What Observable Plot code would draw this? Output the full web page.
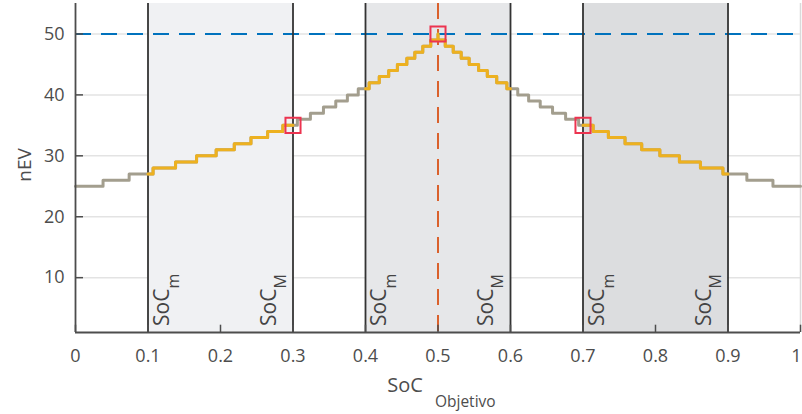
<!DOCTYPE html>
<html><head><meta charset="utf-8">
<script src="https://cdn.jsdelivr.net/npm/d3@7"></script>
<script src="https://cdn.jsdelivr.net/npm/@observablehq/plot@0.6"></script>
<style>body{margin:0;background:#fff} svg{display:block}</style>
</head><body><div id="chart"></div>
<script>
// SoC (objetivo) where each nEV level begins, and the nEV level
const stepSoC = [0, 0.038, 0.074, 0.107, 0.138, 0.167, 0.194, 0.219, 0.242, 0.265, 0.286, 0.306, 0.324, 0.342, 0.359, 0.375, 0.390, 0.405, 0.419, 0.432, 0.444, 0.457, 0.468, 0.479, 0.490, 0.5,
  0.5, 0.510, 0.521, 0.532, 0.543, 0.556, 0.568, 0.581, 0.595, 0.610, 0.625, 0.641, 0.658, 0.676, 0.694, 0.714, 0.735, 0.758, 0.781, 0.806, 0.833, 0.862, 0.893, 0.926, 0.962, 1];
const stepNEV = [25, 26, 27, 28, 29, 30, 31, 32, 33, 34, 35, 36, 37, 38, 39, 40, 41, 42, 43, 44, 45, 46, 47, 48, 49, 50,
  49, 48, 47, 46, 45, 44, 43, 42, 41, 40, 39, 38, 37, 36, 35, 34, 33, 32, 31, 30, 29, 28, 27, 26, 25, 25];
// SoC windows [SoC_m, SoC_M]
const windowMin = [0.1, 0.4, 0.7];
const windowMax = [0.3, 0.6, 0.9];
// marked operating points
const targetSoC = [0.3, 0.5, 0.7];
const targetNEV = [35, 50, 35];
const nEVMax = 50;
const socCenter = 0.5;
const xTicks = [0, 0.1, 0.2, 0.3, 0.4, 0.5, 0.6, 0.7, 0.8, 0.9, 1];
const yTicks = [10, 20, 30, 40, 50];

const windowFills = ["#f0f1f3", "#e6e7e9", "#dcdddf"];
const rows = stepSoC.map((s, i) => ({soc: s, n: stepNEV[i]}));
function levelAt(x) {
  let lv = rows[0].n;
  for (const r of rows) if (r.soc <= x) lv = r.n;
  return lv;
}
const segRows = [];
windowMin.forEach((a, k) => {
  const b = windowMax[k];
  segRows.push({soc: a, n: levelAt(a), seg: k});
  rows.forEach(r => { if (r.soc > a && r.soc < b) segRows.push({soc: r.soc, n: r.n, seg: k}); });
  segRows.push({soc: b, n: levelAt(b), seg: k});
});
const targets = targetSoC.map((s, i) => ({soc: s, n: targetNEV[i]}));
const bounds = windowMin.concat(windowMax);

const axisColor = "#4d4d4d";
const plot = Plot.plot({
  width: 802, height: 414,
  marginLeft: 75, marginRight: 2, marginTop: 3, marginBottom: 82,
  style: {fontFamily: "'Open Sans', sans-serif", fontSize: "18px", color: axisColor, background: "white", overflow: "visible"},
  x: {domain: [0, 1], ticks: xTicks, tickFormat: d => String(d), label: null},
  y: {domain: [1, 55], ticks: yTicks, label: null},
  marks: [
    Plot.ruleY(yTicks, {stroke: "#e3e3e3", strokeWidth: 1.5}),
    ...windowMin.map((a, k) => Plot.rect([k], {x1: () => a, x2: () => windowMax[k], y1: () => 1, y2: () => 55, fill: windowFills[k]})),
    Plot.ruleX([1], {stroke: "#dadada", strokeWidth: 1.5}),
    Plot.ruleY([nEVMax], {stroke: "#0072BD", strokeWidth: 2, strokeDasharray: "16,10"}),
    Plot.ruleX([socCenter], {stroke: "#D95319", strokeWidth: 1.8, strokeDasharray: "16,10"}),
    Plot.ruleX(bounds, {stroke: "#333333", strokeWidth: 1.8}),
    Plot.line(rows, {x: "soc", y: "n", curve: "step-after", stroke: "#a39e8e", strokeWidth: 3}),
    Plot.line(segRows, {x: "soc", y: "n", z: "seg", curve: "step-after", stroke: "#EDB120", strokeWidth: 3}),
    Plot.dot(targets, {x: "soc", y: "n", symbol: "square", r: 8.5, stroke: "#ec3450", strokeWidth: 2, fill: "none"}),
    Plot.ruleX([0], {stroke: axisColor, strokeWidth: 1.8}),
    Plot.ruleY([1], {stroke: axisColor, strokeWidth: 1.8}),
    Plot.ruleY(yTicks, {x1: () => 0, x2: () => 0.011, stroke: axisColor, strokeWidth: 1.5}),
    Plot.ruleX(xTicks, {y1: () => 1, y2: () => 2.2, stroke: axisColor, strokeWidth: 1.5}),
    Plot.axisX(xTicks.slice(0, -1), {tickFormat: d => String(d), tickSize: 0, tickPadding: 17, fontSize: 18, label: null}),
    Plot.axisX(xTicks.slice(-1), {tickFormat: d => String(d), tickSize: 0, tickPadding: 17, fontSize: 18, label: null, dx: -4}),
    Plot.axisY({ticks: yTicks, tickSize: 0, tickPadding: 11, fontSize: 18, label: null})
  ]
});
document.getElementById("chart").appendChild(plot);

const xs = plot.scale("x").apply;
const svg = d3.select(plot);
const font = "'Open Sans', sans-serif";
// x label
const xl = svg.append("text").attr("x", xs(socCenter) + 4).attr("y", 392)
  .attr("text-anchor", "middle").attr("font-family", font).attr("fill", axisColor).attr("font-size", 20);
xl.append("tspan").text("SoC");
xl.append("tspan").attr("dx", 12).attr("dy", 15).attr("font-size", 15.5).text("Objetivo");
// y label
svg.append("text").attr("transform", "translate(31,165) rotate(-90)")
  .attr("text-anchor", "middle").attr("font-family", font).attr("fill", axisColor).attr("font-size", 19).text("nEV");
// rotated window labels
function winLabel(px, sub) {
  const t = svg.append("text").attr("transform", `translate(${px},326) rotate(-90)`)
    .attr("text-anchor", "start").attr("font-family", font).attr("fill", "#444").attr("font-size", 21);
  t.append("tspan").text("SoC");
  t.append("tspan").attr("dy", 10).attr("font-size", 16).text(sub);
}
windowMin.forEach(a => winLabel(xs(a) + 21, "m"));
windowMax.forEach(b => winLabel(xs(b) - 17, "M"));
</script></body></html>
